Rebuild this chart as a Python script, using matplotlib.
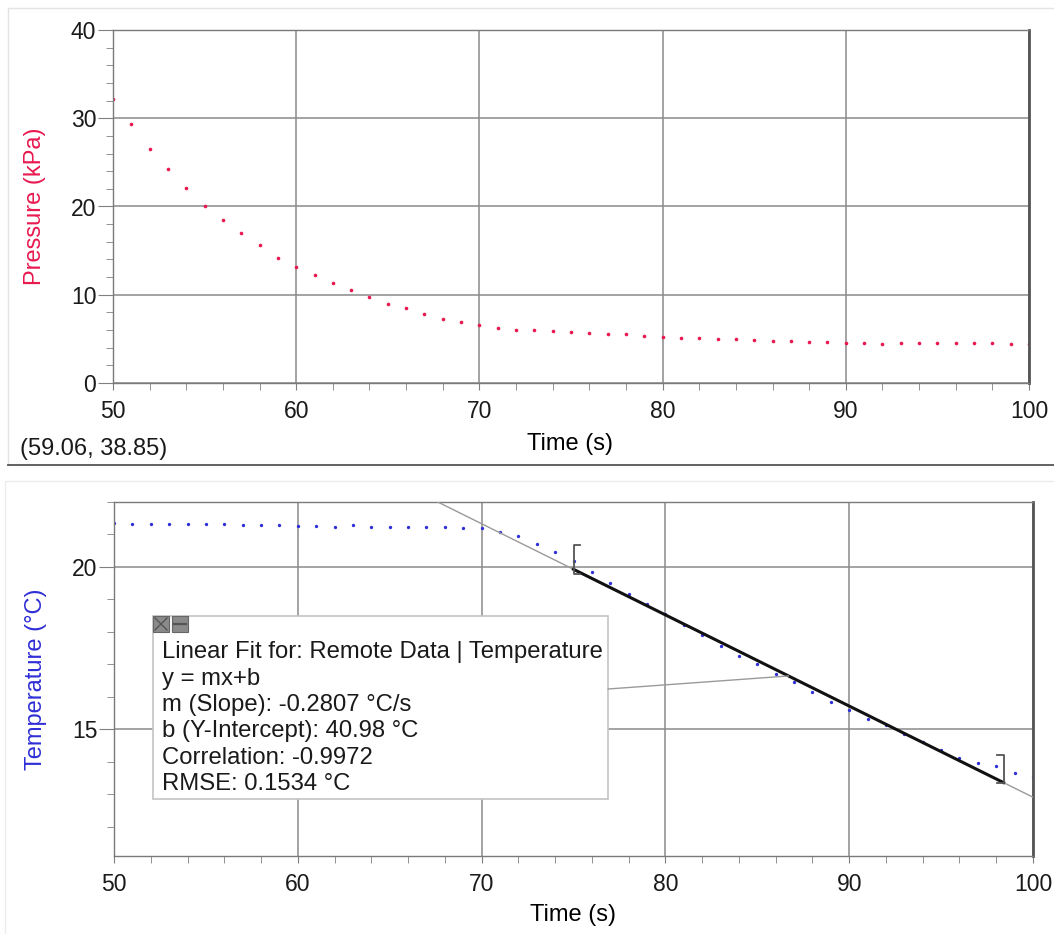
import numpy as np
import matplotlib.pyplot as plt
from matplotlib.patches import Rectangle, ConnectionPatch
from matplotlib.lines import Line2D
from matplotlib.ticker import MultipleLocator

plt.rcParams['font.family'] = ['Liberation Sans', 'DejaVu Sans']

# dados (uma amostra por segundo)
tempo = np.arange(50, 101)

pressao = [32.2, 29.3, 26.5, 24.2, 22.1, 20.1, 18.5, 17.0, 15.6, 14.2,
           13.2, 12.2, 11.3, 10.5, 9.7, 9.0, 8.45, 7.86, 7.29, 6.87,
           6.61, 6.27, 6.04, 6.04, 5.93, 5.74, 5.67, 5.51, 5.50, 5.33,
           5.21, 5.14, 5.14, 5.02, 5.00, 4.87, 4.80, 4.72, 4.65, 4.60,
           4.57, 4.49, 4.38, 4.49, 4.49, 4.49, 4.49, 4.49, 4.49, 4.45,
           4.45]

temperatura = [21.35, 21.32, 21.32, 21.32, 21.32, 21.32, 21.32, 21.30, 21.28, 21.30,
               21.27, 21.27, 21.24, 21.28, 21.24, 21.23, 21.23, 21.24, 21.23, 21.20,
               21.20, 21.09, 20.94, 20.71, 20.47, 20.17, 19.85, 19.52, 19.18, 18.85,
               18.55, 18.22, 17.90, 17.58, 17.27, 17.02, 16.70, 16.45, 16.16, 15.85,
               15.61, 15.31, 15.12, 14.85, 14.60, 14.35, 14.13, 13.97, 13.88, 13.67,
               13.52]

# ajuste linear mostrado na caixa
m_ajuste = -0.2807
b_ajuste = 40.98
t_ini_ajuste = 75.0
t_fim_ajuste = 98.4
t_ligacao = 86.7

texto_cursor = '(59.06, 38.85)'
linhas_ajuste = [
    'Linear Fit for: Remote Data | Temperature',
    'y = mx+b',
    'm (Slope): -0.2807 \u00b0C/s',
    'b (Y-Intercept): 40.98 \u00b0C',
    'Correlation: -0.9972',
    'RMSE: 0.1534 \u00b0C',
]

COR_P = '#e8194f'
COR_T = '#2e2ed6'

W, H = 1054, 934


def fx(px):
    return px / W


def fy(py):
    return 1 - py / H


def estilo_eixo(ax, ymaj, ymin):
    ax.set_xlim(50, 100)
    ax.xaxis.set_major_locator(MultipleLocator(10))
    ax.xaxis.set_minor_locator(MultipleLocator(2))
    ax.yaxis.set_major_locator(MultipleLocator(ymaj))
    ax.yaxis.set_minor_locator(MultipleLocator(ymin))
    ax.grid(True, which='major', color='#8a8a8a', lw=1.1)
    ax.set_axisbelow(True)
    ax.tick_params(axis='both', which='both', direction='out', colors='#808080',
                   labelcolor='#1a1a1a', labelsize=16.5)
    ax.tick_params(axis='y', which='major', length=11, pad=1)
    ax.tick_params(axis='y', which='minor', length=5)
    ax.tick_params(axis='x', which='both', length=5, pad=7)
    for s in ['left', 'bottom', 'top']:
        ax.spines[s].set_color('#7a7a7a')
        ax.spines[s].set_linewidth(1.0)
    ax.spines['right'].set_color('#555555')
    ax.spines['right'].set_linewidth(2.0)


fig = plt.figure(figsize=(W / 100, H / 100), dpi=100)

# molduras dos paineis
fig.add_artist(Line2D([fx(8), fx(8), 1], [fy(465), fy(8), fy(8)], transform=fig.transFigure,
                      color='#e4e4e4', lw=1))
fig.add_artist(Line2D([fx(8), 1], [fy(465), fy(465)], transform=fig.transFigure,
                      color='#555555', lw=1.3))
fig.add_artist(Line2D([fx(5), fx(5), 1], [fy(934), fy(481), fy(481)], transform=fig.transFigure,
                      color='#ececec', lw=1))

ax1 = fig.add_axes([fx(113), fy(383), fx(1029) - fx(113), fy(30) - fy(383)])
ax2 = fig.add_axes([fx(114), fy(856), fx(1033) - fx(114), fy(502) - fy(856)])

# grafico de pressao
estilo_eixo(ax1, 10, 2)
ax1.set_ylim(0, 40)
ax1.plot(tempo, pressao, 'o', ms=2.6, color=COR_P, mec='none')
ax1.set_xlabel('Time (s)', fontsize=17, va='center')
ax1.xaxis.set_label_coords(0.499, -0.173)
ax1.set_ylabel('Pressure (kPa)', fontsize=17, color=COR_P, va='center')
ax1.yaxis.set_label_coords(-0.085, 0.5)
fig.text(fx(20), fy(449), texto_cursor, fontsize=17, va='center', ha='left', color='#1a1a1a')

# grafico de temperatura
estilo_eixo(ax2, 5, 1)
ax2.set_ylim(11.1, 22.0)
ax2.plot(tempo, temperatura, 'o', ms=2.4, color=COR_T, mec='none')
ax2.set_xlabel('Time (s)', fontsize=17, va='center')
ax2.xaxis.set_label_coords(0.5, -0.166)
ax2.set_ylabel('Temperature (\u00b0C)', fontsize=17, color=COR_T, va='center')
ax2.yaxis.set_label_coords(-0.085, 0.5)

xs = np.array([50.0, 100.0])
ax2.plot(xs, m_ajuste * xs + b_ajuste, color='#9a9a9a', lw=1.0, zorder=3)
xa = np.array([t_ini_ajuste, t_fim_ajuste])
ax2.plot(xa, m_ajuste * xa + b_ajuste, color='#111111', lw=2.2, zorder=4)

# colchetes nas pontas do intervalo ajustado
y0 = m_ajuste * t_ini_ajuste + b_ajuste
y1 = m_ajuste * t_fim_ajuste + b_ajuste
ax2.plot([t_ini_ajuste + 0.35, t_ini_ajuste, t_ini_ajuste, t_ini_ajuste + 0.35],
         [y0 + 0.75, y0 + 0.75, y0 - 0.15, y0 - 0.15], color='#555555', lw=1.3, zorder=5)
ax2.plot([t_fim_ajuste - 0.35, t_fim_ajuste, t_fim_ajuste, t_fim_ajuste - 0.35],
         [y1 + 0.85, y1 + 0.85, y1 + 0.0, y1 + 0.0], color='#555555', lw=1.3, zorder=5)

# caixa do ajuste linear
caixa = Rectangle((fx(153), fy(799)), fx(608) - fx(153), fy(616) - fy(799),
                  transform=fig.transFigure, facecolor='white', edgecolor='#c4c4c4',
                  lw=1.2, zorder=10, clip_on=False)
ax2.add_patch(caixa)

liga = ConnectionPatch(xyA=(fx(608), fy(689)), coordsA=fig.transFigure,
                       xyB=(t_ligacao, m_ajuste * t_ligacao + b_ajuste), coordsB=ax2.transData,
                       color='#9a9a9a', lw=1.0, zorder=6)
fig.add_artist(liga)

for x0 in (153, 172):
    ax2.add_patch(Rectangle((fx(x0), fy(632)), fx(16), fy(0) - fy(16), transform=fig.transFigure,
                            facecolor='#8a8a8a', edgecolor='#666666', lw=0.8, zorder=11,
                            clip_on=False))
fig.add_artist(Line2D([fx(155), fx(167)], [fy(618), fy(630)], transform=fig.transFigure,
                      color='#555555', lw=1.0, zorder=12))
fig.add_artist(Line2D([fx(155), fx(167)], [fy(630), fy(618)], transform=fig.transFigure,
                      color='#555555', lw=1.0, zorder=12))
fig.add_artist(Line2D([fx(174), fx(186)], [fy(624), fy(624)], transform=fig.transFigure,
                      color='#555555', lw=1.6, zorder=12))

bases = [658, 684.5, 711, 737.5, 764, 790]
for txt, yb in zip(linhas_ajuste, bases):
    ax2.text(fx(162), fy(yb), txt, transform=fig.transFigure, fontsize=17.2,
             va='baseline', ha='left', color='#1a1a1a', zorder=12, clip_on=False)

fig.savefig('out.png', dpi=100)
